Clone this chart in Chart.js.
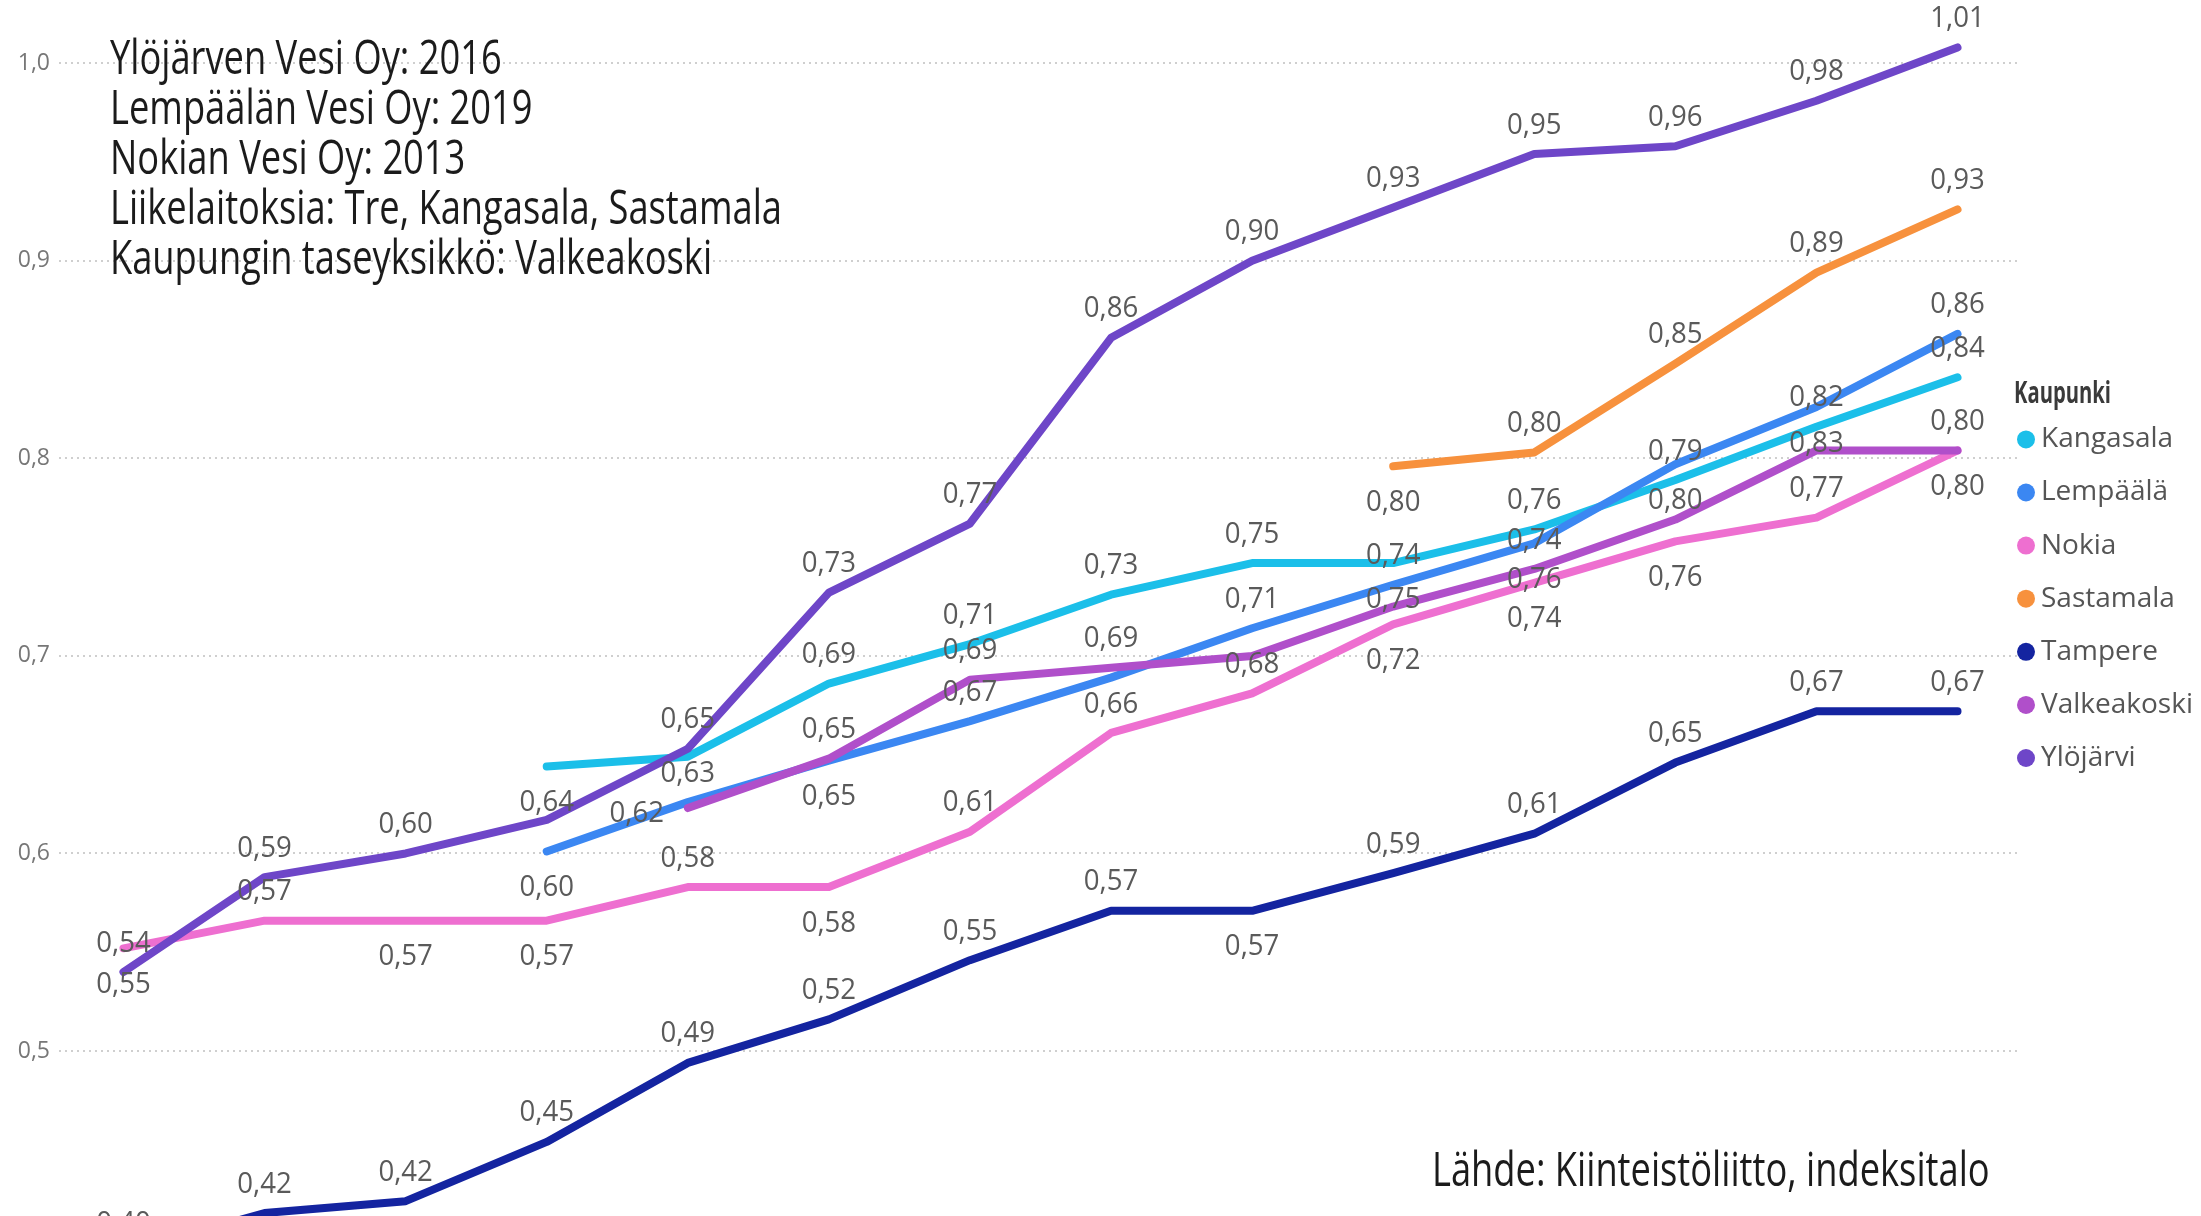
<!DOCTYPE html>
<html>
<head>
<meta charset="utf-8">
<script src="https://cdn.jsdelivr.net/npm/chart.js@4.4.1/dist/chart.umd.min.js"></script>
<style>
    html, body { margin: 0; padding: 0; background: #ffffff; }
    #wrap { position: relative; width: 2201px; height: 1216px; }
</style>
</head>
<body>
<div id="wrap"><canvas id="chart"></canvas></div>
<script>
// Years on the (hidden) x axis
const years = [2009, 2010, 2011, 2012, 2013, 2014, 2015, 2016, 2017, 2018, 2019, 2020, 2021, 2022];

// Values per city
const kangasala   = [null, null, null, 0.644, 0.649, 0.686, 0.706, 0.731, 0.747, 0.747, 0.764, 0.789, 0.816, 0.841];
const lempaala    = [null, null, null, 0.601, 0.626, 0.647, 0.667, 0.689, 0.714, 0.736, 0.757, 0.797, 0.826, 0.863];
const nokia       = [0.552, 0.566, 0.566, 0.566, 0.583, 0.583, 0.611, 0.661, 0.681, 0.716, 0.737, 0.758, 0.770, 0.804];
const sastamala   = [null, null, null, null, null, null, null, null, null, 0.796, 0.803, 0.848, 0.894, 0.926];
const tampere     = [0.398, 0.418, 0.424, 0.454, 0.494, 0.516, 0.546, 0.571, 0.571, 0.590, 0.610, 0.646, 0.672, 0.672];
const valkeakoski = [null, null, null, null, 0.623, 0.648, 0.688, 0.694, 0.700, 0.725, 0.744, 0.769, 0.804, 0.804];
const ylojarvi    = [0.540, 0.588, 0.600, 0.617, 0.653, 0.732, 0.767, 0.861, 0.900, 0.927, 0.954, 0.958, 0.981, 1.008];

const seriesNames = ["Kangasala", "Lempäälä", "Nokia", "Sastamala", "Tampere", "Valkeakoski", "Ylöjärvi"];
const seriesValues = [kangasala, lempaala, nokia, sastamala, tampere, valkeakoski, ylojarvi];
const seriesColors = ["#1bbfe9", "#3b87f2", "#ee6fd0", "#f7913d", "#1424a0", "#b04fca", "#6e46c8"];

// Where each data label sits: a = above, b = below, l = left, - = hidden
const labelPlacement = [
    [null, null, null, "b", "-", "a", "a", "a", "a", "b", "a", "a", "a", "a"],
    [null, null, null, "b", "a", "b", "a", "-", "a", "a", "b", "b", "b", "a"],
    ["b", "a", "b", "b", "a", "b", "a", "a", "a", "b", "b", "b", "a", "b"],
    [null, null, null, null, null, null, null, null, null, "b", "a", "a", "a", "a"],
    ["a", "a", "a", "a", "a", "a", "a", "a", "b", "a", "a", "a", "a", "a"],
    [null, null, null, null, "l", "a", "a", "a", "-", "-", "a", "-", "-", "a"],
    ["a", "a", "a", "-", "a", "a", "a", "a", "a", "a", "a", "a", "a", "a"]
];

const yTicks = [0.5, 0.6, 0.7, 0.8, 0.9, 1.0];

const noteLines = [
    "Ylöjärven Vesi Oy: 2016",
    "Lempäälän Vesi Oy: 2019",
    "Nokian Vesi Oy: 2013",
    "Liikelaitoksia: Tre, Kangasala, Sastamala",
    "Kaupungin taseyksikkö: Valkeakoski"
];
const sourceText = "Lähde: Kiinteistöliitto, indeksitalo";
const legendTitle = "Kaupunki";

const formatValue = value => value.toFixed(2).replace(".", ",");

// Draws text squeezed sideways, like the narrow font of the original
const narrowText = (ctx, text, x, y, squeeze) => {
    ctx.save();
    ctx.translate(x, y);
    ctx.scale(squeeze, 1);
    ctx.fillText(text, 0, 0);
    ctx.restore();
};

const dataLabels = {
    id: "dataLabels",
    afterDatasetsDraw(chart) {
        const ctx = chart.ctx;
        ctx.save();
        ctx.font = "30px 'Open Sans'";
        ctx.fillStyle = "#5a5a5a";
        ctx.textAlign = "center";
        ctx.textBaseline = "middle";
        chart.data.datasets.forEach((dataset, i) => {
            const meta = chart.getDatasetMeta(i);
            dataset.data.forEach((value, j) => {
                const place = labelPlacement[i][j];
                if (value === null || !place || place === "-") return;
                const point = meta.data[j];
                let dx = 0, dy = -29;
                if (place === "b") dy = 36;
                if (place === "l") { dx = -51; dy = 5; }
                narrowText(ctx, formatValue(value), point.x + dx, point.y + dy, 0.92);
            });
        });
        ctx.restore();
    }
};

const notesAndLegend = {
    id: "notesAndLegend",
    afterDraw(chart) {
        const ctx = chart.ctx;
        ctx.save();

        // Notes top left and source bottom right
        ctx.font = "48px 'Open Sans'";
        ctx.fillStyle = "#1b1b1b";
        ctx.textBaseline = "middle";
        ctx.textAlign = "left";
        const squeeze = 672 / ctx.measureText(noteLines[3]).width;
        noteLines.forEach((line, i) => narrowText(ctx, line, 110, 60 + i * 50.2, squeeze));
        narrowText(ctx, sourceText, 1432, 1172, squeeze);

        // Legend
        ctx.font = "bold 30px 'Open Sans'";
        ctx.fillStyle = "#3a3a3a";
        narrowText(ctx, legendTitle, 2014, 394, 97 / ctx.measureText(legendTitle).width);
        ctx.font = "28px 'Open Sans'";
        seriesNames.forEach((name, i) => {
            const y = 439.4 + i * 53.1;
            ctx.fillStyle = seriesColors[i];
            ctx.beginPath();
            ctx.arc(2026, y, 9, 0, Math.PI * 2);
            ctx.fill();
            ctx.fillStyle = "#555555";
            ctx.fillText(name, 2041, y);
        });
        ctx.restore();
    }
};

const datasets = seriesNames.map((name, i) => ({
    label: name,
    data: seriesValues[i],
    borderColor: seriesColors[i],
    backgroundColor: seriesColors[i],
    borderWidth: 8,
    borderCapStyle: "round",
    borderJoinStyle: "round",
    pointRadius: 0,
    tension: 0,
    order: seriesNames.length - i
}));

new Chart(document.getElementById("chart"), {
    type: "line",
    data: { labels: years, datasets: datasets },
    plugins: [dataLabels, notesAndLegend],
    options: {
        responsive: true,
        maintainAspectRatio: false,
        animation: false,
        events: [],
        layout: { autoPadding: false, padding: { left: 14, right: 180, top: 0, bottom: 0 } },
        plugins: { legend: { display: false }, tooltip: { enabled: false } },
        scales: {
            x: {
                type: "linear",
                display: false,
                min: years[0] - 0.457,
                max: years[years.length - 1] + 0.45
            },
            y: {
                min: 0.4165,
                max: 1.032,
                afterFit: scale => {
                    scale.width = 45;
                    scale.paddingTop = 0;
                    scale.paddingBottom = 0;
                },
                afterBuildTicks: scale => { scale.ticks = yTicks.map(v => ({ value: v })); },
                border: { display: false, dash: [2, 4] },
                grid: {
                    drawTicks: false,
                    color: "#cfcfcf",
                    lineWidth: 2
                },
                ticks: {
                    padding: 9,
                    color: "#777777",
                    font: { family: "'Open Sans'", size: 23 },
                    callback: value => value.toFixed(1).replace(".", ",")
                }
            }
        }
    }
});
</script>
</body>
</html>
